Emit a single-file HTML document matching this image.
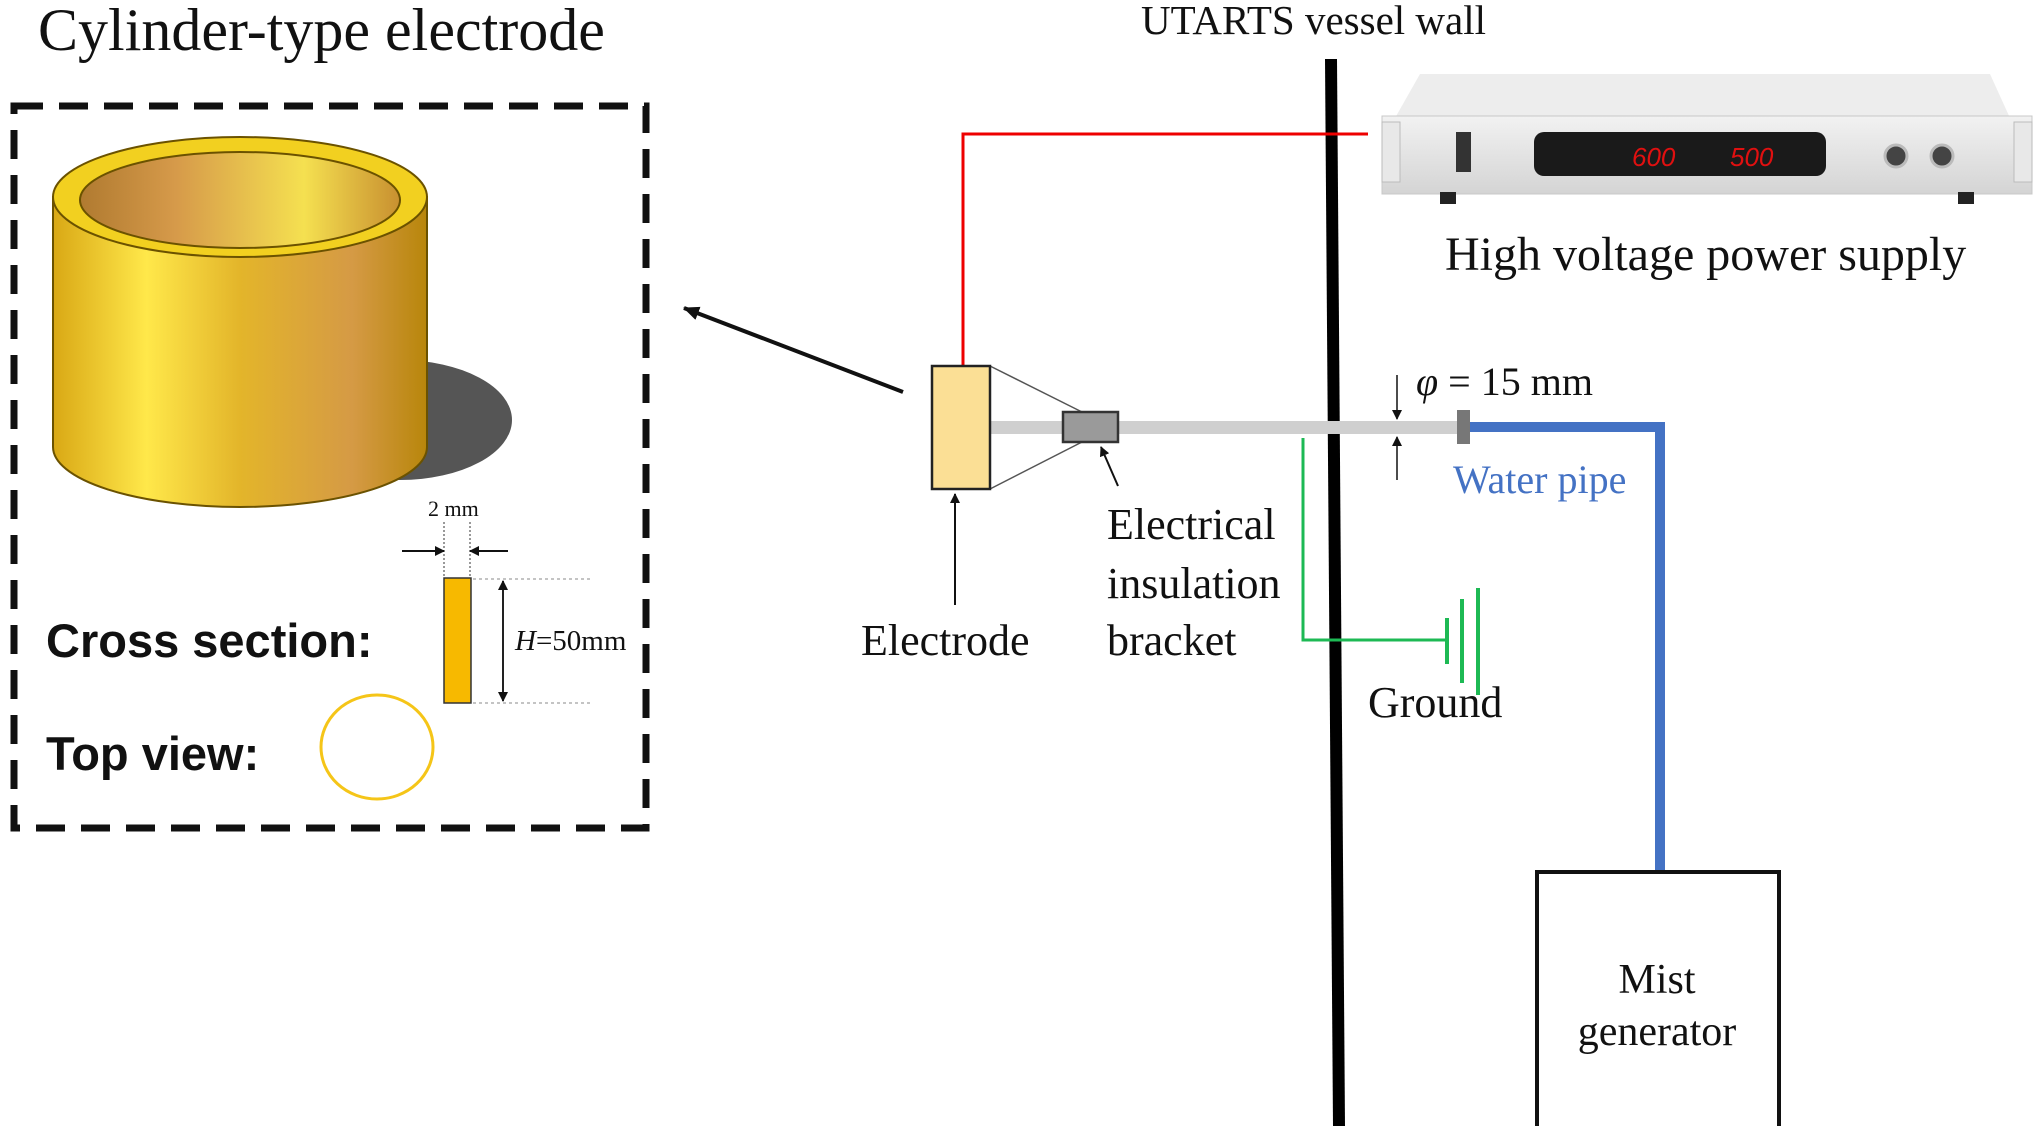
<!DOCTYPE html>
<html><head><meta charset="utf-8"><style>
html,body{margin:0;padding:0;background:#fff;}
svg{display:block;}
text{font-family:"Liberation Serif",serif;fill:#111;}
</style></head><body>
<svg width="2038" height="1126" viewBox="0 0 2038 1126" xmlns="http://www.w3.org/2000/svg">
<defs>
<linearGradient id="body" x1="0" x2="1" y1="0" y2="0">
<stop offset="0" stop-color="#d9a815"/><stop offset="0.25" stop-color="#ffe84a"/><stop offset="0.5" stop-color="#e3b52a"/><stop offset="0.8" stop-color="#d59a45"/><stop offset="1" stop-color="#b8860b"/>
</linearGradient>
<linearGradient id="inner" x1="0" x2="1" y1="0" y2="0">
<stop offset="0" stop-color="#b07a30"/><stop offset="0.3" stop-color="#d69a4a"/><stop offset="0.7" stop-color="#f5e050"/><stop offset="1" stop-color="#c89030"/>
</linearGradient>
<linearGradient id="ps" x1="0" x2="0" y1="0" y2="1">
<stop offset="0" stop-color="#f2f2f2"/><stop offset="1" stop-color="#d4d4d4"/>
</linearGradient>
<marker id="ah" markerWidth="10" markerHeight="10" refX="9" refY="5" orient="auto" markerUnits="userSpaceOnUse"><path d="M0,0 L10,5 L0,10 z" fill="#111"/></marker>
<marker id="ah2" markerWidth="16" markerHeight="14" refX="15" refY="7" orient="auto" markerUnits="userSpaceOnUse"><path d="M0,0 L16,7 L0,14 z" fill="#111"/></marker>
</defs>

<text x="38" y="50" font-size="60">Cylinder-type electrode</text>
<rect x="14" y="106" width="632" height="722" fill="none" stroke="#111" stroke-width="7" stroke-dasharray="29,16"/>

<!-- cylinder -->
<ellipse cx="400" cy="420" rx="112" ry="60" fill="#555"/>
<path d="M53,197 L53,447 A187,60 0 0 0 427,447 L427,197 Z" fill="url(#body)" stroke="#6b5200" stroke-width="2"/>
<ellipse cx="240" cy="197" rx="187" ry="60" fill="#f2d020" stroke="#6b5200" stroke-width="2"/>
<ellipse cx="240" cy="200" rx="160" ry="48" fill="url(#inner)" stroke="#6b5200" stroke-width="2"/>

<!-- cross section -->
<text x="428" y="516" font-size="22">2 mm</text>
<line x1="444" y1="522" x2="444" y2="576" stroke="#333" stroke-dasharray="2,2"/>
<line x1="470" y1="522" x2="470" y2="576" stroke="#333" stroke-dasharray="2,2"/>
<line x1="402" y1="551" x2="444" y2="551" stroke="#111" stroke-width="2" marker-end="url(#ah)"/>
<line x1="508" y1="551" x2="470" y2="551" stroke="#111" stroke-width="2" marker-end="url(#ah)"/>
<rect x="444" y="578" width="27" height="125" fill="#f7b900" stroke="#333" stroke-width="1.5"/>
<line x1="473" y1="579" x2="592" y2="579" stroke="#888" stroke-dasharray="3,3"/>
<line x1="473" y1="703" x2="592" y2="703" stroke="#888" stroke-dasharray="3,3"/>
<line x1="503" y1="640" x2="503" y2="581" stroke="#222" stroke-width="2" marker-end="url(#ah)"/>
<line x1="503" y1="640" x2="503" y2="701" stroke="#222" stroke-width="2" marker-end="url(#ah)"/>
<text x="515" y="650" font-size="29" fill="#333"><tspan font-style="italic">H</tspan>=50mm</text>
<text x="46" y="657" font-size="47" font-weight="bold" style="font-family:'Liberation Sans',sans-serif" fill="#333">Cross section:</text>
<text x="46" y="770" font-size="47" font-weight="bold" style="font-family:'Liberation Sans',sans-serif" fill="#333">Top view:</text>
<ellipse cx="377" cy="747" rx="56" ry="52" fill="none" stroke="#f5c518" stroke-width="3"/>

<!-- pointer arrow -->
<line x1="903" y1="392" x2="684" y2="308" stroke="#111" stroke-width="4" marker-end="url(#ah2)"/>

<!-- wall -->
<text x="1141" y="34" font-size="41">UTARTS vessel wall</text>
<line x1="1331" y1="59" x2="1339" y2="1126" stroke="#000" stroke-width="12"/>

<!-- power supply -->
<polygon points="1420,74 1990,74 2010,118 1395,118" fill="#ededed"/>
<rect x="1382" y="116" width="650" height="78" fill="url(#ps)" stroke="#c8c8c8"/>
<rect x="1382" y="122" width="18" height="60" fill="#e8e8e8" stroke="#bbb"/>
<rect x="2014" y="122" width="18" height="60" fill="#e8e8e8" stroke="#bbb"/>
<rect x="1456" y="132" width="15" height="40" fill="#333"/>
<circle cx="1545" cy="158" r="6" fill="#d22"/>
<rect x="1534" y="132" width="292" height="44" rx="10" fill="#1a1a1a"/>
<text x="1632" y="166" font-size="26" style="font-family:'Liberation Sans',sans-serif;fill:#e01010" font-style="italic">600</text>
<text x="1730" y="166" font-size="26" style="font-family:'Liberation Sans',sans-serif;fill:#e01010" font-style="italic">500</text>
<circle cx="1896" cy="156" r="11" fill="#444" stroke="#bbb" stroke-width="3"/>
<circle cx="1942" cy="156" r="11" fill="#444" stroke="#bbb" stroke-width="3"/>
<rect x="1440" y="192" width="16" height="12" fill="#222"/>
<rect x="1958" y="192" width="16" height="12" fill="#222"/>
<text x="1445" y="270" font-size="48">High voltage power supply</text>

<!-- red wire -->
<polyline points="963,366 963,134 1368,134" fill="none" stroke="#e00" stroke-width="3"/>

<!-- rod -->
<rect x="990" y="421" width="470" height="13" fill="#cfcfcf"/>
<line x1="990" y1="366" x2="1082" y2="412" stroke="#555" stroke-width="1.5"/>
<line x1="990" y1="489" x2="1082" y2="442" stroke="#555" stroke-width="1.5"/>
<rect x="932" y="366" width="58" height="123" fill="#fbdf95" stroke="#222" stroke-width="2.5"/>
<rect x="1063" y="412" width="55" height="30" fill="#9a9a9a" stroke="#333" stroke-width="2.5"/>
<line x1="1118" y1="486" x2="1101" y2="447" stroke="#111" stroke-width="2" marker-end="url(#ah)"/>
<line x1="955" y1="605" x2="955" y2="494" stroke="#111" stroke-width="2" marker-end="url(#ah)"/>
<text x="861" y="655" font-size="44">Electrode</text>
<text x="1107" y="539" font-size="44">Electrical</text>
<text x="1107" y="598" font-size="44">insulation</text>
<text x="1107" y="655" font-size="44">bracket</text>

<!-- ground -->
<polyline points="1303,438 1303,640 1447,640" fill="none" stroke="#1db954" stroke-width="3"/>
<line x1="1447" y1="618" x2="1447" y2="664" stroke="#1db954" stroke-width="4"/>
<line x1="1462" y1="599" x2="1462" y2="683" stroke="#1db954" stroke-width="4"/>
<line x1="1478" y1="588" x2="1478" y2="695" stroke="#1db954" stroke-width="4"/>
<text x="1368" y="717" font-size="44">Ground</text>

<!-- phi -->
<text x="1416" y="395" font-size="40"><tspan font-style="italic">φ</tspan> = 15 mm</text>
<line x1="1397" y1="375" x2="1397" y2="419" stroke="#111" stroke-width="1.5" marker-end="url(#ah)"/>
<line x1="1397" y1="480" x2="1397" y2="437" stroke="#111" stroke-width="1.5" marker-end="url(#ah)"/>
<rect x="1457" y="410" width="13" height="34" fill="#777"/>

<!-- pipe -->
<polyline points="1470,427 1660,427 1660,870" fill="none" stroke="#4472c4" stroke-width="10"/>
<text x="1453" y="493" font-size="40" style="fill:#4472c4">Water pipe</text>

<!-- mist -->
<rect x="1537" y="872" width="242" height="262" fill="#fff" stroke="#111" stroke-width="4"/>
<text x="1657" y="993" font-size="42" text-anchor="middle">Mist</text>
<text x="1657" y="1045" font-size="42" text-anchor="middle">generator</text>
</svg>
</body></html>
